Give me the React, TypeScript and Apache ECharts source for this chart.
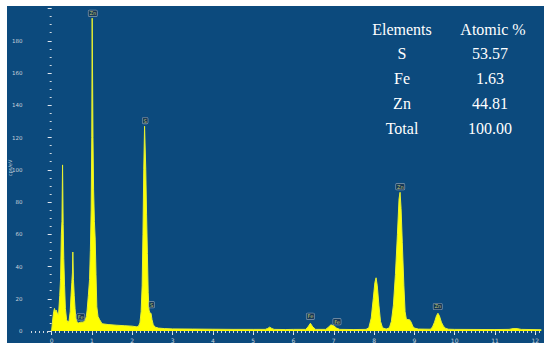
import React, { useEffect, useRef } from "react";
import * as echarts from "echarts";

// Spectrum: energy (keV) and intensity (cps/eV)
const spectrumKeV = [
  -0.02, 0.0, 0.03, 0.05, 0.07, 0.09, 0.11, 0.14, 0.17, 0.2, 0.22, 0.24, 0.255, 0.27, 0.285, 0.3, 0.32, 0.34, 0.37, 0.4,
  0.43, 0.46, 0.48, 0.5, 0.515, 0.525, 0.54, 0.56, 0.58, 0.6, 0.63, 0.67, 0.72, 0.78, 0.83, 0.86, 0.88, 0.91, 0.94, 0.96,
  0.98, 0.995, 1.005, 1.015, 1.025, 1.04, 1.06, 1.08, 1.1, 1.12, 1.15, 1.19, 1.25, 1.4, 1.6, 1.8, 2.0, 2.1, 2.15, 2.19,
  2.22, 2.245, 2.265, 2.285, 2.305, 2.32, 2.335, 2.355, 2.375, 2.395, 2.415, 2.44, 2.465, 2.49, 2.52, 2.56, 2.65, 2.8, 3.0, 3.5,
  4.0, 4.5, 5.0, 5.3, 5.36, 5.41, 5.46, 5.52, 5.8, 6.0, 6.3, 6.36, 6.42, 6.48, 6.55, 6.8, 6.86, 6.93, 7.0, 7.07,
  7.15, 7.5, 7.8, 7.87, 7.93, 7.98, 8.02, 8.05, 8.08, 8.12, 8.16, 8.21, 8.3, 8.38, 8.43, 8.48, 8.53, 8.58, 8.62, 8.645,
  8.67, 8.7, 8.74, 8.77, 8.8, 8.84, 8.88, 8.92, 8.96, 9.0, 9.1, 9.4, 9.45, 9.5, 9.55, 9.585, 9.62, 9.67, 9.72, 9.78,
  9.85, 10.0, 11.0, 11.35, 11.45, 11.55, 11.65, 12.15,
];
const spectrumCps = [
  0, 0.5, 8, 12, 14, 12, 13, 11, 10, 22, 32, 60, 68, 103, 66, 45, 28, 14, 7, 5.5,
  6, 12, 22, 30, 36, 49, 32, 22, 14, 8, 5.5, 5, 5.5, 5.5, 6.5, 9, 13, 22, 32, 50,
  75, 120, 194, 194, 120, 88, 68, 57, 35, 15, 9, 7, 4.5, 4, 3.6, 3.3, 3, 2.6, 2.8, 5,
  12, 28, 60, 100, 127, 127, 100, 72, 48, 24, 13, 11, 11, 7, 4, 2.5, 1.8, 1.5, 1.3, 1.2,
  1.1, 1.0, 1.0, 1.0, 1.6, 2.4, 1.6, 1.0, 0.9, 1.0, 1.0, 2.5, 4.8, 2.5, 1.0, 1.0, 2.2, 3.8, 3.2, 1.8,
  1.0, 0.9, 1.0, 2, 8, 20, 30, 33, 28, 16, 6, 2, 1.2, 2, 6, 16, 35, 60, 82, 86,
  76, 55, 28, 12, 7.5, 7, 7, 5.5, 3, 1.8, 1.2, 1.1, 2.5, 5.5, 9.5, 11, 9.5, 5.5, 3, 1.6,
  1.1, 1.0, 0.9, 1.0, 1.5, 1.5, 1.0, 0.8,
];

// Peak identification labels
const peakNames = ["Zn", "S", "S", "Fe", "Fe", "Fe", "Zn", "Zn"];
const peakKeV = [1.02, 2.32, 2.48, 0.72, 6.42, 7.08, 8.65, 9.58];
const peakCps = [197, 130.5, 16.3, 8.8, 9.1, 5.8, 89.5, 15.2];

// Axis ticks
const xTickLabels = [0, 1, 2, 3, 4, 5, 6, 7, 8, 9, 10, 11, 12];
const xMin = -0.6;
const xMax = 12.15;
const yAxisTitle = "cps/eV";

// Composition table
const tableElements = ["S", "Fe", "Zn", "Total"];
const tableAtomic = ["53.57", "1.63", "44.81", "100.00"];

const BG = "#0c4a7d";
const AXIS_TXT = "#c8d2dc";

export default function App() {
  const ref = useRef<HTMLDivElement>(null);

  useEffect(() => {
    if (!ref.current) return;
    const chart = echarts.init(ref.current, undefined, { renderer: "svg" });

    const minorTicks: number[] = [];
    for (let i = -5; i <= 121; i++) minorTicks.push(Math.round(i) / 10);

    const serif = "'Liberation Serif', 'Times New Roman', serif";
    const tableGraphics: any[] = [
      { type: "text", x: 402, y: 29, style: { text: "Elements", fill: "#ffffff", font: `16px ${serif}`, align: "center", verticalAlign: "middle" } },
      { type: "text", x: 493, y: 29, style: { text: "Atomic %", fill: "#ffffff", font: `16px ${serif}`, align: "center", verticalAlign: "middle" } },
    ];
    tableElements.forEach((el, i) => {
      const y = 53.5 + i * 25;
      tableGraphics.push({ type: "text", x: 402, y, style: { text: el, fill: "#ffffff", font: `16px ${serif}`, align: "center", verticalAlign: "middle" } });
      tableGraphics.push({ type: "text", x: 490, y, style: { text: tableAtomic[i], fill: "#ffffff", font: `16px ${serif}`, align: "center", verticalAlign: "middle" } });
    });

    chart.setOption({
      animation: false,
      backgroundColor: "#ffffff",
      graphic: [
        { type: "rect", z: -10, silent: true, shape: { x: 7, y: 6, width: 537, height: 337 }, style: { fill: BG } },
        {
          type: "text",
          x: 10,
          y: 168,
          rotation: Math.PI / 2,
          style: { text: yAxisTitle, fill: AXIS_TXT, font: "5px 'DejaVu Sans'", align: "center", verticalAlign: "middle" },
        },
        ...tableGraphics,
      ],
      grid: { left: 27.5, right: 8.7, top: 8.5, bottom: 19, containLabel: false, outerBoundsMode: "none" },
      xAxis: [
        {
          type: "value",
          min: xMin,
          max: xMax,
          axisLine: { show: false },
          splitLine: { show: false },
          axisTick: { show: true, customValues: xTickLabels, length: 4, lineStyle: { color: "#e0e6ee", width: 1 } },
          axisLabel: { customValues: xTickLabels, fontSize: 6, color: AXIS_TXT, margin: 6, fontFamily: "DejaVu Sans" },
        },
        {
          type: "value",
          min: xMin,
          max: xMax,
          position: "bottom",
          axisLine: { show: false },
          splitLine: { show: false },
          axisTick: { show: true, customValues: minorTicks, length: 2, lineStyle: { color: "#d0d8e0", width: 1 } },
          axisLabel: { show: false },
        },
      ],
      yAxis: {
        type: "value",
        min: 0,
        max: 200,
        interval: 20,
        axisLine: { show: false },
        splitLine: { show: false },
        axisTick: { show: true, length: 4, lineStyle: { color: "#e0e6ee" } },
        minorTick: { show: true, splitNumber: 4, length: 2, lineStyle: { color: "#d0d8e0" } },
        axisLabel: { fontSize: 5.5, color: AXIS_TXT, margin: 5, showMaxLabel: false, fontFamily: "DejaVu Sans" },
      },
      series: [
        {
          type: "line",
          xAxisIndex: 0,
          data: spectrumKeV.map((x, i) => [x, spectrumCps[i]]),
          showSymbol: false,
          symbol: "none",
          lineStyle: { color: "#e8f030", width: 1 },
          areaStyle: { color: "#ffff00", opacity: 1 },
          z: 2,
        },
        {
          type: "scatter",
          xAxisIndex: 0,
          symbolSize: 0,
          z: 5,
          data: peakNames.map((n, i) => ({ name: n, value: [peakKeV[i], peakCps[i]] })),
          label: {
            show: true,
            position: "inside",
            formatter: "{b}",
            fontSize: 5,
            fontFamily: "DejaVu Sans",
            color: "#f4f080",
            backgroundColor: "rgba(20,45,70,0.9)",
            borderColor: "#9fb0c2",
            borderWidth: 0.6,
            borderRadius: 1,
            padding: [1, 1, 0, 1],
          },
        },
      ],
    });

    return () => chart.dispose();
  }, []);

  return (
    <div
      ref={ref}
      style={{ position: "fixed", left: 0, top: 0, width: 550, height: 350 }}
    />
  );
}
